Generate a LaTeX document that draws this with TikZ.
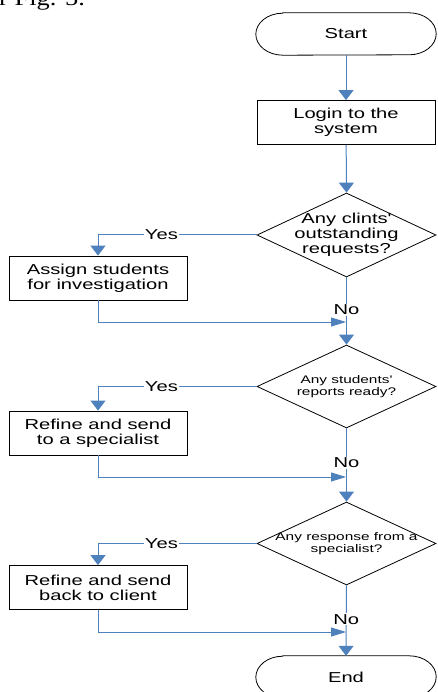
\documentclass[tikz,border=0pt]{standalone}
\usepackage{fontspec}
\usetikzlibrary{shapes.geometric,arrows.meta,calc}
\newfontfamily\dfont[FakeStretch=1.4]{Liberation Sans}
\newfontfamily\sfont[FakeStretch=1.2]{Liberation Serif}
\definecolor{flowblue}{RGB}{79,129,189}
\tikzset{
  big/.style={font=\dfont\fontsize{14.4}{15}\selectfont},
  small/.style={font=\dfont\fontsize{11}{12}\selectfont},
  term/.style={rectangle,minimum width=180pt,minimum height=42pt,inner sep=0pt,big},
  proc/.style={rectangle,draw=black,line width=0.8pt,minimum width=178pt,minimum height=44pt,inner sep=0pt,align=center,big},
  dec/.style={diamond,draw=black,line width=0.8pt,minimum width=179pt,minimum height=84pt,inner sep=0pt},
  dtext/.style={align=center,inner sep=0pt},
  outline/.style={draw=black,line width=0.8pt},
  vflow/.style={draw=flowblue,line width=1pt,-{Triangle[width=15pt,length=10pt]}},
  hflow/.style={draw=flowblue,line width=1pt,-{Triangle[width=9pt,length=15pt]}},
  lbl/.style={fill=white,inner sep=1pt,big}
}
\begin{document}
\begin{tikzpicture}[x=1pt,y=-1pt]
\useasboundingbox (0,0) rectangle (437,692);
\clip (0,0) rectangle (437,692);
\node[anchor=base west,inner sep=0pt,font=\sfont\fontsize{22}{22}\selectfont] (fig) at (-1,6) {r Fig. 5.};
% terminals
\node[term] (start) at (346,34) {Start};
\node[term] (end) at (346,677) {End};
\foreach \t in {start,end}{
  \draw[outline] ($(\t.north west)+(27,0)$) -- ($(\t.north east)+(-27,0)$)
     arc[start angle=270,end angle=450,x radius=27,y radius=21]
     -- ($(\t.south west)+(27,0)$)
     arc[start angle=90,end angle=270,x radius=27,y radius=21] -- cycle;
}
\node[proc] (login) at (346,122.5) {Login to the\\system};
\node[dec] (d1) at (346.5,235) {};
\node[dtext,big] (t1) at (d1) {Any clints'\\outstanding\\requests?};
\node[proc] (b1) at (98,278) {Assign students\\for investigation};
\node[dec,minimum height=83pt] (d2) at (346.5,386.5) {};
\node[dtext,small] (t2) at (d2) {Any students'\\reports ready?};
\node[proc] (b2) at (98,433) {Refine and send\\to a specialist};
\node[dec,minimum height=83pt] (d3) at (346.5,543.5) {};
\node[dtext,small] (t3) at (d3) {Any response from a\\specialist?};
\node[proc] (b3) at (98,587.5) {Refine and send\\back to client};
\coordinate (m1) at (346,322);
\coordinate (m2) at (346,477);
\coordinate (m3) at (346,632);
\draw[vflow] (start) -- (login);
\draw[vflow] (login) -- (d1.north);
\draw[vflow] (d1.west) -| node[lbl,pos=0.3] (y1) {Yes} (b1.north);
\draw[hflow] (b1.south) |- (m1);
\draw[vflow] (d1.south) -- node[lbl,pos=0.485] (n1) {No} (d2.north);
\draw[vflow] (d2.west) -| node[lbl,pos=0.3] (y2) {Yes} (b2.north);
\draw[hflow] (b2.south) |- (m2);
\draw[vflow] (d2.south) -- node[lbl,pos=0.47] (n2) {No} (d3.north);
\draw[vflow] (d3.west) -| node[lbl,pos=0.3] (y3) {Yes} (b3.north);
\draw[hflow] (b3.south) |- (m3);
\draw[vflow] (d3.south) -- node[lbl,pos=0.48] (n3) {No} (end.north);
\end{tikzpicture}
\end{document}
